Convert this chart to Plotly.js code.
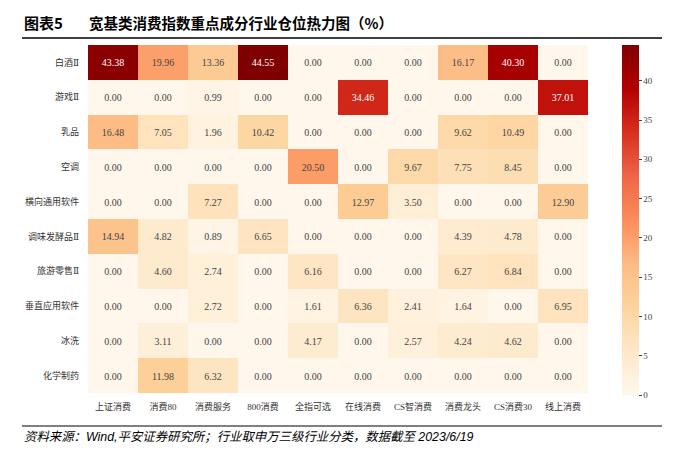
<!DOCTYPE html>
<html>
<head>
<meta charset="utf-8">
<script src="https://cdn.plot.ly/plotly-3.0.1.min.js"></script>
<style>
html,body{margin:0;padding:0;background:#fff;}
#chart{width:686px;height:461px;}
</style>
</head>
<body>
<div id="chart"></div>
<script>
const indices = ["上证消费","消费80","消费服务","800消费","全指可选","在线消费","CS智消费","消费龙头","CS消费30","线上消费"];
const industries = ["白酒Ⅱ","游戏Ⅱ","乳品","空调","横向通用软件","调味发酵品Ⅱ","旅游零售Ⅱ","垂直应用软件","冰洗","化学制药"];
const row_baijiu   = [43.38,19.96,13.36,44.55,0.00,0.00,0.00,16.17,40.30,0.00];
const row_youxi    = [0.00,0.00,0.99,0.00,0.00,34.46,0.00,0.00,0.00,37.01];
const row_rupin    = [16.48,7.05,1.96,10.42,0.00,0.00,0.00,9.62,10.49,0.00];
const row_kongtiao = [0.00,0.00,0.00,0.00,20.50,0.00,9.67,7.75,8.45,0.00];
const row_hengxiang= [0.00,0.00,7.27,0.00,0.00,12.97,3.50,0.00,0.00,12.90];
const row_tiaowei  = [14.94,4.82,0.89,6.65,0.00,0.00,0.00,4.39,4.78,0.00];
const row_lvyou    = [0.00,4.60,2.74,0.00,6.16,0.00,0.00,6.27,6.84,0.00];
const row_chuizhi  = [0.00,0.00,2.72,0.00,1.61,6.36,2.41,1.64,0.00,6.95];
const row_bingxi   = [0.00,3.11,0.00,0.00,4.17,0.00,2.57,4.24,4.62,0.00];
const row_huaxue   = [0.00,11.98,6.32,0.00,0.00,0.00,0.00,0.00,0.00,0.00];
const colorbarTicks = [0,5,10,15,20,25,30,35,40];

const z = [row_baijiu,row_youxi,row_rupin,row_kongtiao,row_hengxiang,row_tiaowei,row_lvyou,row_chuizhi,row_bingxi,row_huaxue];

const W = 686, H = 461;
const L = 88, R = 588, T = 45, B = 393;
const px = x => (x - L) / (R - L);
const py = y => (B - y) / (B - T);

const orrd = [
  [0.0,'#fff7ec'],[0.125,'#fee8c8'],[0.25,'#fdd49e'],[0.375,'#fdbb84'],
  [0.5,'#fc8d59'],[0.625,'#ef6548'],[0.75,'#d7301f'],[0.875,'#b30000'],[1.0,'#7f0000']
];

const serif = '"Liberation Serif","DejaVu Serif","Noto Sans CJK SC",serif';

const trace = {
  type:'heatmap',
  z: z, x: indices, y: industries,
  colorscale: orrd,
  zmin: 0, zmax: Math.max(...z.flat()),
  xgap: 0, ygap: 0,
  texttemplate: '%{z:.2f}',
  textfont: {family: serif, size: 10},
  hoverinfo: 'skip',
  colorbar: {
    xref:'container', x: 622/W, xanchor:'left', xpad:0,
    y: 1, yanchor:'top', len: 1.005, lenmode:'fraction', ypad:0,
    thickness: 17, outlinewidth: 0,
    tickvals: colorbarTicks, ticks:'outside', ticklen:3, tickwidth:1, tickcolor:'#444',
    tickfont:{family: serif, size:9, color:'#444'}
  }
};

const layout = {
  width: W, height: H,
  margin: {l: L, r: W - R, t: T, b: H - B, pad: 0},
  paper_bgcolor:'#fff', plot_bgcolor:'#fff',
  xaxis: {type:'category', showgrid:false, zeroline:false, ticks:'', ticklen:0, ticklabelstandoff:7,
          tickfont:{family: serif, size:9, color:'#333'}, tickangle:0, automargin:false},
  yaxis: {type:'category', autorange:'reversed', showgrid:false, zeroline:false, ticks:'', ticklabelstandoff:8,
          tickfont:{family: serif, size:9, color:'#333'}, automargin:false},
  shapes: [
    {type:'line', xref:'paper', yref:'paper', x0:px(22), x1:px(662), y0:py(38), y1:py(38), line:{color:'#000', width:1.5}},
    {type:'line', xref:'paper', yref:'paper', x0:px(22), x1:px(662), y0:py(426), y1:py(426), line:{color:'#000', width:1}}
  ],
  annotations: [
    {xref:'paper', yref:'paper', x:px(22), y:py(22), xanchor:'left', yanchor:'middle', showarrow:false,
     text:'<b>图表5</b>', font:{family:'"Noto Sans CJK SC","Noto Sans",sans-serif', size:15, color:'#000'}},
    {xref:'paper', yref:'paper', x:px(87), y:py(22), xanchor:'left', yanchor:'middle', showarrow:false,
     text:'<b>宽基类消费指数重点成分行业仓位热力图（%）</b>', font:{family:'"Noto Sans CJK SC","Noto Sans",sans-serif', size:14.5, color:'#000'}},
    {xref:'paper', yref:'paper', x:px(22), y:py(437), xanchor:'left', yanchor:'middle', showarrow:false,
     text:'<i>资料来源：Wind,平安证券研究所；行业取申万三级行业分类，数据截至 2023/6/19</i>',
     font:{family:'"Liberation Sans","Noto Sans CJK SC",sans-serif', size:12.4, color:'#000'}}
  ]
};

Plotly.newPlot('chart', [trace], layout, {displayModeBar:false, staticPlot:true});
</script>
</body>
</html>
